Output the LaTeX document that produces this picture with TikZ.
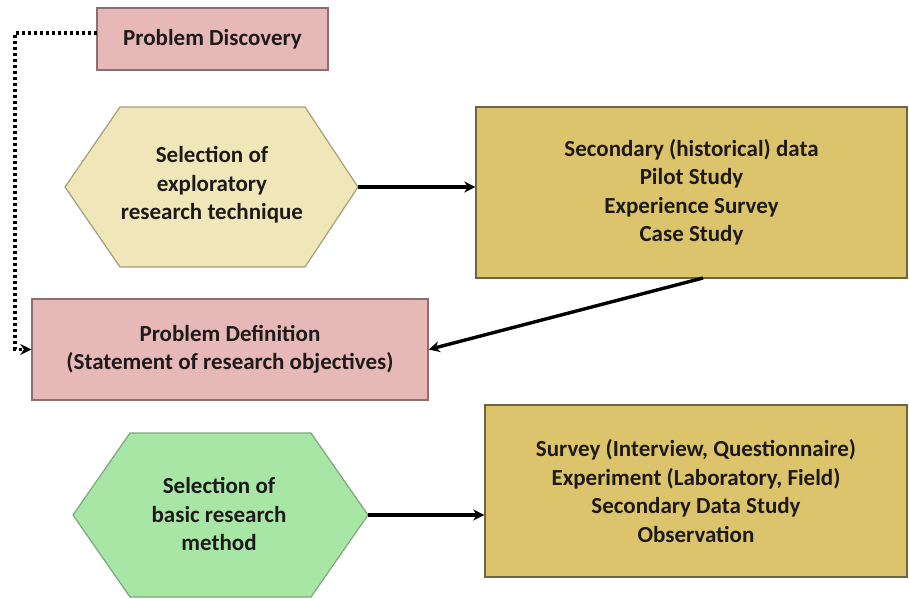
\documentclass[tikz,border=0pt]{standalone}
\usepackage{fontspec}
\setmainfont{Carlito}
\usetikzlibrary{arrows.meta}

\definecolor{pinkfill}{HTML}{E6B9B8}
\definecolor{pinkline}{HTML}{8C6F6E}
\definecolor{tanfill}{HTML}{F0E7B8}
\definecolor{tanline}{HTML}{A59E7C}
\definecolor{goldfill}{HTML}{DCC46C}
\definecolor{goldline}{HTML}{6E6440}
\definecolor{greenfill}{HTML}{A8E6A6}
\definecolor{greenline}{HTML}{7FA67C}
\definecolor{inktext}{HTML}{1E1A1A}

\tikzset{
  label text/.style={font=\fontsize{23}{28.5}\selectfont\bfseries, text=inktext, align=center},
  pinkbox/.style={draw=pinkline, line width=1.4pt, fill=pinkfill, label text, inner sep=0pt},
  goldbox/.style={draw=goldline, line width=1.4pt, fill=goldfill, label text, inner sep=0pt},
  tanhex/.style={draw=tanline, line width=1.2pt, fill=tanfill},
  greenhex/.style={draw=greenline, line width=1.2pt, fill=greenfill},
  flow/.style={line width=3.4pt, draw=black, -{Stealth[length=11pt,width=11pt]}},
  dotflow/.style={line width=3.4pt, draw=black, dash pattern=on 3pt off 3pt,
                  -{Stealth[length=11pt,width=11pt]}},
}

\begin{document}
\begin{tikzpicture}[x=1pt,y=-1pt]
  \useasboundingbox (0,0) rectangle (909,598);
  \fill[white] (0,0) rectangle (909,598);

  % problem discovery
  \node[pinkbox, minimum width=231pt, minimum height=62pt] (disc) at (212.5,39) {Problem Discovery};

  % exploratory technique hexagon
  \coordinate (h1l) at (65,187);
  \coordinate (h1r) at (358,187);
  \draw[tanhex] (h1l) -- (120,107) -- (305,107) -- (h1r) -- (305,267) -- (120,267) -- cycle;
  \node[label text] (h1) at (212,185) {Selection of\\exploratory\\research technique};

  % exploratory options
  \node[goldbox, minimum width=431pt, minimum height=171pt] (sec) at (691.5,192.5)
    {Secondary (historical) data\\Pilot Study\\Experience Survey\\Case Study};

  % problem definition
  \node[pinkbox, minimum width=396pt, minimum height=101pt] (pdef) at (230,349.5)
    {Problem Definition\\(Statement of research objectives)};

  % basic method hexagon
  \coordinate (h2l) at (73,515);
  \coordinate (h2r) at (368,515);
  \draw[greenhex] (h2l) -- (130,433) -- (311,433) -- (h2r) -- (311,597) -- (130,597) -- cycle;
  \node[label text] (h2) at (219,514) {Selection of\\basic research\\method};

  % basic method options
  \node[goldbox, minimum width=422pt, minimum height=172pt] (meth) at (696,491)
    {Survey (Interview, Questionnaire)\\Experiment (Laboratory, Field)\\Secondary Data Study\\Observation};

  % connectors
  \coordinate (d0) at (97,33);
  \coordinate (dc) at (15,33);
  \coordinate (s1) at (703,278);
  \draw[dotflow] (d0) -- (dc) |- (pdef.west);
  \draw[flow] (h1r) -- (h1r -| sec.west);
  \draw[flow] (s1) -- (pdef.east);
  \draw[flow] (h2r) -- (h2r -| meth.west);
\end{tikzpicture}
\end{document}
